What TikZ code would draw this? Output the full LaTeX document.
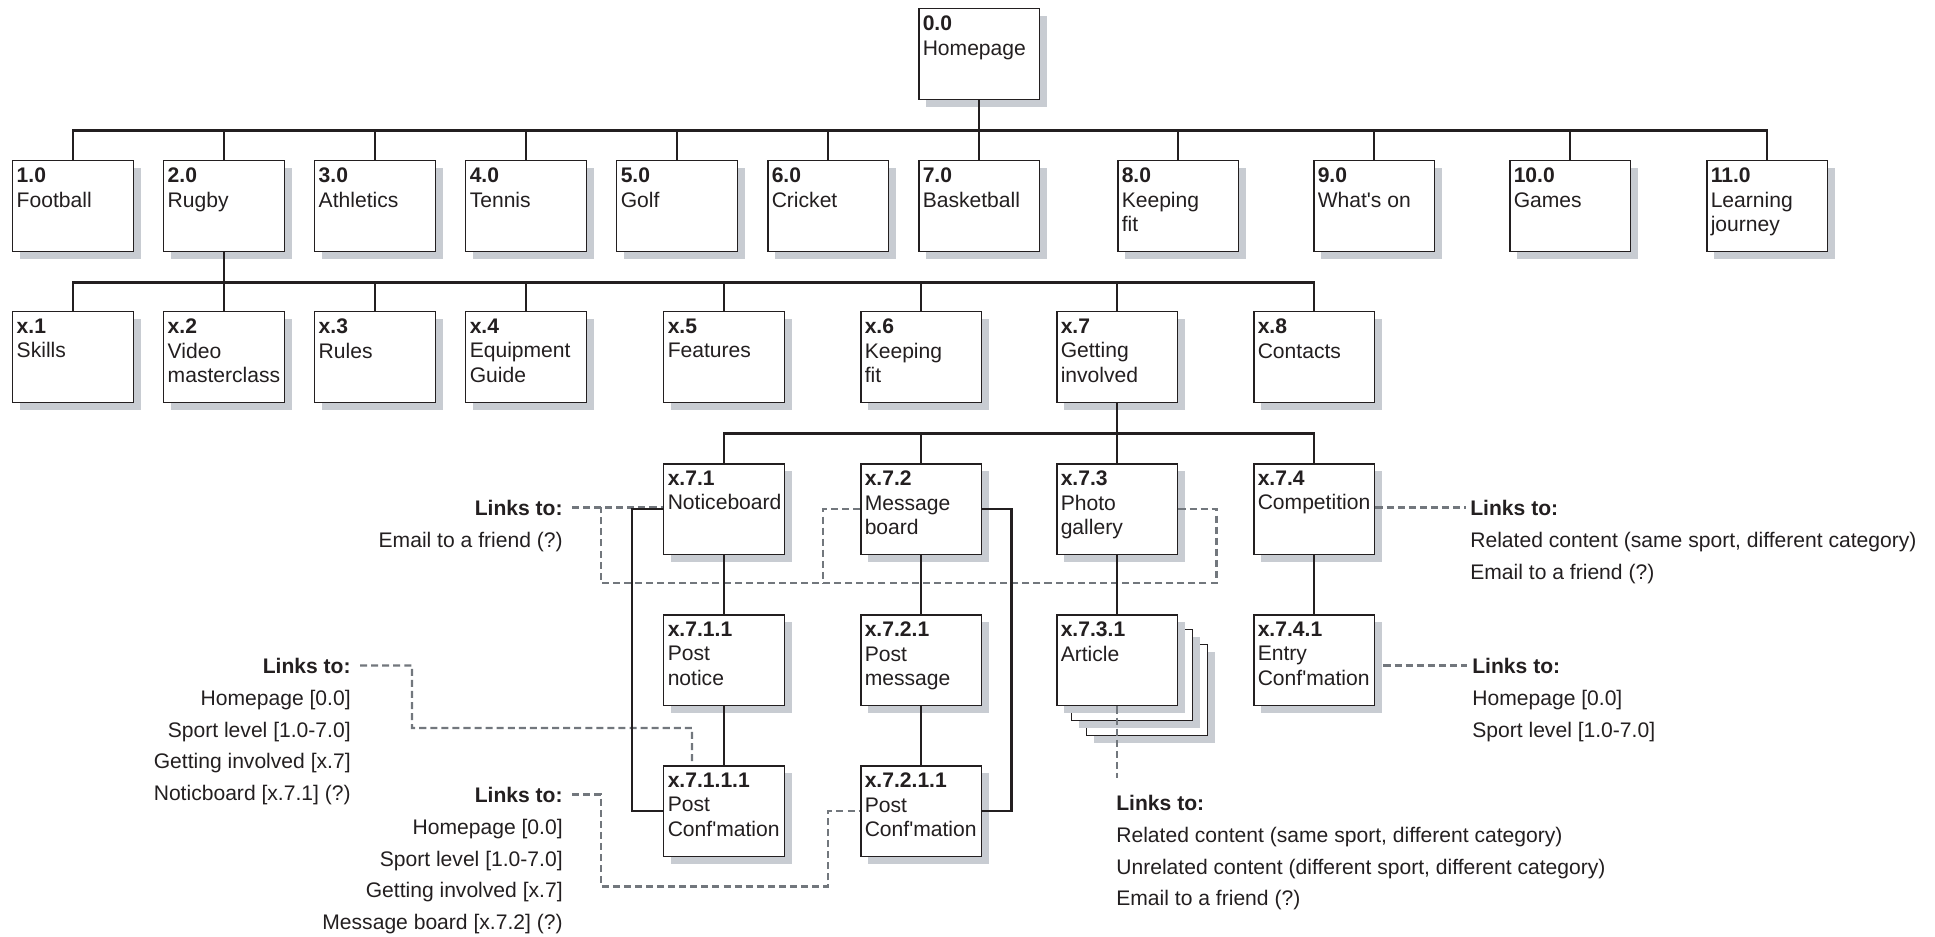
\documentclass[tikz,border=0pt]{standalone}
\usepackage{fontspec}
\setmainfont{Liberation Sans}
\usetikzlibrary{positioning,shadows}

\definecolor{ink}{HTML}{231F20}
\definecolor{pageshade}{HTML}{C8CCD2}
\definecolor{linkgrey}{HTML}{72777D}

\newcommand{\pagetxt}[2]{\parbox[t][1.54cm][t]{2.26cm}{\raggedright\hyphenpenalty=10000 \textbf{#1}\\#2}}

\begin{document}
\begin{tikzpicture}[x=0.02cm,y=-0.02cm]
        \tikzset{pagebox/.style={draw=ink,line width=0.85pt,fill=white,anchor=north west,
                inner xsep=0.08cm,inner ysep=0.14cm,text=ink,font=\fontsize{12}{14}\selectfont,
                drop shadow={shadow xshift=0.14cm,shadow yshift=-0.14cm,fill=pageshade,opacity=1}},
            backsheet/.style={pagebox,line width=0.6pt,inner sep=0pt,minimum width=2.42cm,minimum height=1.82cm},
            branch/.style={to path={(\tikztostart.south) -- ++(0,30) -| (\tikztotarget.north)}},
            wire/.style={draw=ink,line width=1.4pt},
            linkline/.style={draw=linkgrey,line width=1.3pt,dash pattern=on 4pt off 2.3pt},
            linkhead/.style={inner sep=0pt,text=ink,font=\fontsize{12}{18}\selectfont\bfseries},
            linklist/.style={inner sep=0pt,text=ink,font=\fontsize{12}{18}\selectfont}}
        \useasboundingbox (0,0) rectangle (1935,937);

        \node[pagebox] (s0) at (918,8) {\pagetxt{0.0}{Homepage}};

        \node[pagebox] (s1) at (12,160) {\pagetxt{1.0}{Football}};
        \node[pagebox] (s2) at (163,160) {\pagetxt{2.0}{Rugby}};
        \node[pagebox] (s3) at (314,160) {\pagetxt{3.0}{Athletics}};
        \node[pagebox] (s4) at (465,160) {\pagetxt{4.0}{Tennis}};
        \node[pagebox] (s5) at (616,160) {\pagetxt{5.0}{Golf}};
        \node[pagebox] (s6) at (767,160) {\pagetxt{6.0}{Cricket}};
        \node[pagebox] (s7) at (918,160) {\pagetxt{7.0}{Basketball}};
        \node[pagebox] (s8) at (1117,160) {\pagetxt{8.0}{Keeping\\fit}};
        \node[pagebox] (s9) at (1313,160) {\pagetxt{9.0}{What\textquotesingle s on}};
        \node[pagebox] (s10) at (1509,160) {\pagetxt{10.0}{Games}};
        \node[pagebox] (s11) at (1706,160) {\pagetxt{11.0}{Learning\\journey}};

        \node[pagebox] (x1) at (12,311) {\pagetxt{x.1}{Skills}};
        \node[pagebox] (x2) at (163,311) {\pagetxt{x.2}{Video\\masterclass}};
        \node[pagebox] (x3) at (314,311) {\pagetxt{x.3}{Rules}};
        \node[pagebox] (x4) at (465,311) {\pagetxt{x.4}{Equipment\\Guide}};
        \node[pagebox] (x5) at (663,311) {\pagetxt{x.5}{Features}};
        \node[pagebox] (x6) at (860,311) {\pagetxt{x.6}{Keeping\\fit}};
        \node[pagebox] (x7) at (1056,311) {\pagetxt{x.7}{Getting\\involved}};
        \node[pagebox] (x8) at (1253,311) {\pagetxt{x.8}{Contacts}};

        \node[pagebox] (x71) at (663,463) {\pagetxt{x.7.1}{Noticeboard}};
        \node[pagebox] (x72) at (860,463) {\pagetxt{x.7.2}{Message\\board}};
        \node[pagebox] (x73) at (1056,463) {\pagetxt{x.7.3}{Photo\\gallery}};
        \node[pagebox] (x74) at (1253,463) {\pagetxt{x.7.4}{Competition}};

        \node[pagebox] (x711) at (663,614) {\pagetxt{x.7.1.1}{Post\\notice}};
        \node[pagebox] (x721) at (860,614) {\pagetxt{x.7.2.1}{Post\\message}};
        \node[backsheet] (x731c) at (1086,644) {};
        \node[backsheet] (x731b) at (1071,629) {};
        \node[pagebox] (x731) at (1056,614) {\pagetxt{x.7.3.1}{Article}};
        \node[pagebox] (x741) at (1253,614) {\pagetxt{x.7.4.1}{Entry\\Conf\textquotesingle mation}};

        \node[pagebox] (x7111) at (663,765) {\pagetxt{x.7.1.1.1}{Post\\Conf\textquotesingle mation}};
        \node[pagebox] (x7211) at (860,765) {\pagetxt{x.7.2.1.1}{Post\\Conf\textquotesingle mation}};

        % what each page links to
        \node[linkhead,anchor=base east] (lk71) at (563,515) {Links to:};
        \node[linklist,align=right,below left=0.33cm and 0cm of lk71.south east] (ls71) {Email to a friend (?)};
        \node[linkhead,anchor=base east] (lk7111) at (351,673) {Links to:};
        \node[linklist,align=right,below left=0.33cm and 0cm of lk7111.south east] (ls7111)
            {Homepage [0.0]\\Sport level [1.0-7.0]\\Getting involved [x.7]\\Noticboard [x.7.1] (?)};
        \node[linkhead,anchor=base east] (lk7211) at (563,802) {Links to:};
        \node[linklist,align=right,below left=0.33cm and 0cm of lk7211.south east] (ls7211)
            {Homepage [0.0]\\Sport level [1.0-7.0]\\Getting involved [x.7]\\Message board [x.7.2] (?)};
        \node[linkhead,anchor=base west] (lk74) at (1470,515) {Links to:};
        \node[linklist,align=left,below right=0.33cm and 0cm of lk74.south west] (ls74)
            {Related content (same sport, different category)\\Email to a friend (?)};
        \node[linkhead,anchor=base west] (lk741) at (1472,673) {Links to:};
        \node[linklist,align=left,below right=0.33cm and 0cm of lk741.south west] (ls741)
            {Homepage [0.0]\\Sport level [1.0-7.0]};
        \node[linkhead,anchor=base west] (lk731) at (1116,810) {Links to:};
        \node[linklist,align=left,below right=0.33cm and 0cm of lk731.south west] (ls731)
            {Related content (same sport, different category)\\Unrelated content (different sport, different category)\\Email to a friend (?)};

        \coordinate (emdrop) at (601,583);
        \draw[linkline] ([xshift=0.18cm]lk71.east) -- (lk71.east -| x71.west);
        \draw[linkline] (x73.east) -- ++(38,0) |- (emdrop) -- (emdrop |- lk71.east);
        \draw[linkline] (x72.west) -- ++(-37,0) -- ++(0,75);
        \draw[linkline] ([xshift=0.18cm]lk7111.east) -- ++(52,0) |- ([shift={(29,-37)}]x7111.north west) -- ([xshift=0.58cm]x7111.north west);
        \draw[linkline] ([xshift=0.18cm]lk7211.east) -- ++(29,0) -- ++(0,92) -| ([xshift=-0.64cm]x7211.west) -- (x7211.west);
        \draw[linkline] (lk74.west -| x74.east) -- ([xshift=-0.08cm]lk74.west);
        \draw[linkline] ([xshift=0.16cm]lk741.west -| x741.east) -- ([xshift=-0.1cm]lk741.west);
        \draw[linkline,shorten >=0.32cm] (x731.south) -- (x731.south |- lk731.north);

        \draw[wire] (s0) edge[branch] (s1) edge[branch] (s2) edge[branch] (s3) edge[branch] (s4)
            edge[branch] (s5) edge[branch] (s6) edge[branch] (s7) edge[branch] (s8)
            edge[branch] (s9) edge[branch] (s10) edge[branch] (s11);
        \draw[wire] (s2) edge[branch] (x1) edge[branch] (x2) edge[branch] (x3) edge[branch] (x4)
            edge[branch] (x5) edge[branch] (x6) edge[branch] (x7) edge[branch] (x8);
        \draw[wire] (x7) edge[branch] (x71) edge[branch] (x72) edge[branch] (x73) edge[branch] (x74);
        \draw[wire] (x71) edge[branch] (x711) (x711) edge[branch] (x7111);
        \draw[wire] (x72) edge[branch] (x721) (x721) edge[branch] (x7211);
        \draw[wire] (x73) edge[branch] (x731);
        \draw[wire] (x74) edge[branch] (x741);
        \draw[wire] (x71.west) -- ++(-31,0) |- (x7111.west);
        \draw[wire] (x72.east) -- ++(29,0) |- (x7211.east);
    \end{tikzpicture}
\end{document}
